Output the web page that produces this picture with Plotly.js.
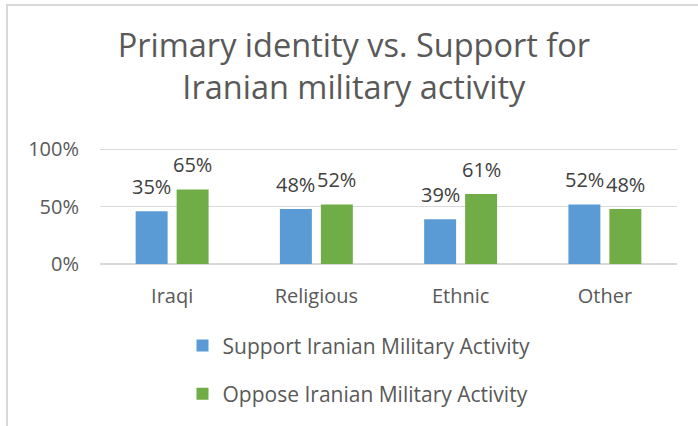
<!DOCTYPE html>
<html>
<head>
<meta charset="utf-8">
<script src="https://cdn.plot.ly/plotly-3.0.1.min.js"></script>
<style>
  html, body { margin: 0; padding: 0; background: #fff; }
  #wrap { position: relative; width: 698px; height: 426px; overflow: hidden; }
  #chart { position: absolute; left: 0; top: 0; width: 698px; height: 426px; }
  #frame { position: absolute; left: 6px; top: 4px; width: 720px; height: 440px;
           border-left: 2px solid #d9d9d9; border-top: 2px solid #d9d9d9; pointer-events: none; }
</style>
</head>
<body>
<div id="wrap">
  <div id="chart"></div>
  <div id="frame"></div>
</div>
<script>
// Data
const categories = ["Iraqi", "Religious", "Ethnic", "Other"];
const supportValues = [46, 48, 39, 52];          // bar heights as drawn (%)
const opposeValues = [65, 52, 61, 48];
const supportLabels = ["35%", "48%", "39%", "52%"]; // data labels as printed
const opposeLabels = ["65%", "52%", "61%", "48%"];
const yTickVals = [0, 50, 100];
const yTickText = ["0%", "50%", "100%"];

const FONT = "Open Sans, sans-serif";
const GREY = "#595959";
const LABEL = "#404040";

const traces = [
  {
    type: "bar", name: "Support Iranian Military Activity",
    x: categories, y: supportValues,
    marker: { color: "#5B9BD5" }, legendgroup: "a", hoverinfo: "skip"
  },
  {
    type: "bar", name: "Oppose Iranian Military Activity",
    x: categories, y: opposeValues,
    marker: { color: "#70AD47" }, legendgroup: "b", hoverinfo: "skip"
  }
];

const annotations = [];
categories.forEach((c, i) => {
  annotations.push({ x: c, y: supportValues[i], text: supportLabels[i], showarrow: false,
    xref: "x", yref: "y", xshift: -20.5, yshift: 25, font: { family: FONT, size: 20, color: LABEL } });
  annotations.push({ x: c, y: opposeValues[i], text: opposeLabels[i], showarrow: false,
    xref: "x", yref: "y", xshift: 20.5, yshift: 25, font: { family: FONT, size: 20, color: LABEL } });
});

const layout = {
  width: 698, height: 426,
  margin: { l: 100, r: 21, t: 145.85, b: 161.7, autoexpand: false },
  paper_bgcolor: "#ffffff", plot_bgcolor: "#ffffff",
  font: { family: FONT, color: GREY, size: 20 },
  title: {
    text: "Primary identity vs. Support for<br>Iranian military activity",
    font: { family: FONT, size: 32.5, color: GREY },
    x: 0.507, xref: "container", xanchor: "center",
    y: 0.866, yref: "container", yanchor: "bottom"
  },
  barmode: "group", bargap: 0.432, bargroupgap: 0.22,
  xaxis: {
    type: "category", showgrid: false, showline: false, zeroline: false,
    ticks: "", ticklabelstandoff: 18,
    tickfont: { family: FONT, size: 20, color: GREY }
  },
  yaxis: {
    range: [0, 103], tickvals: yTickVals, ticktext: yTickText,
    showgrid: true, gridcolor: "#d9d9d9", gridwidth: 1.5,
    zeroline: true, zerolinecolor: "#d9d9d9", zerolinewidth: 1.5,
    showline: false, ticks: "", ticklabelstandoff: 20,
    tickfont: { family: FONT, size: 20, color: GREY }
  },
  showlegend: true,
  legend: {
    orientation: "v", x: 0.143, xref: "paper", xanchor: "left",
    y: -0.52, yref: "paper", yanchor: "top",
    font: { family: FONT, size: 21, color: GREY },
    tracegroupgap: 18, itemwidth: 30, bgcolor: "rgba(0,0,0,0)"
  },
  annotations: annotations
};

Plotly.newPlot("chart", traces, layout, { staticPlot: true, displayModeBar: false });
</script>
</body>
</html>
